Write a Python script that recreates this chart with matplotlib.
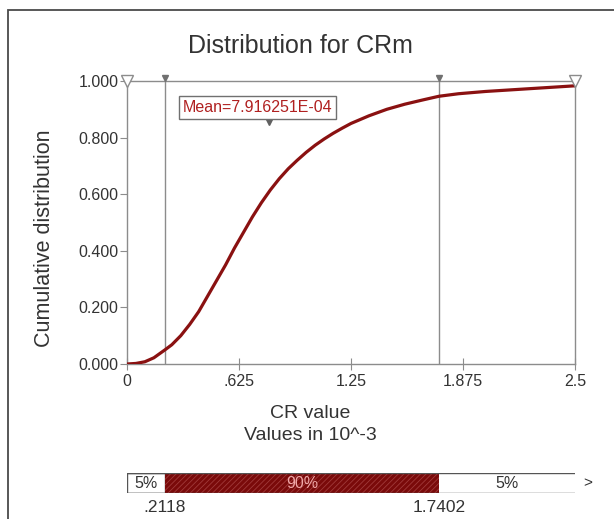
import matplotlib
matplotlib.use("Agg")
import matplotlib.pyplot as plt
from matplotlib.patches import Rectangle
from matplotlib.lines import Line2D

plt.rcParams["font.family"] = ["Liberation Sans", "DejaVu Sans"]
plt.rcParams["hatch.linewidth"] = 0.6

# cumulative curve read along the CRm output (values in 10^-3)
cr_values = [0, 0.05, 0.10, 0.15, 0.2118, 0.25, 0.30, 0.35, 0.40, 0.45, 0.50, 0.55,
             0.60, 0.65, 0.70, 0.75, 0.80, 0.85, 0.90, 0.95, 1.00, 1.05, 1.10, 1.15,
             1.20, 1.25, 1.35, 1.45, 1.55, 1.65, 1.7402, 1.85, 2.00, 2.15, 2.30, 2.40,
             2.50]
cum_prob = [0, 0.002, 0.008, 0.022, 0.05, 0.068, 0.10, 0.14, 0.185, 0.24, 0.295, 0.35,
            0.41, 0.465, 0.52, 0.57, 0.615, 0.655, 0.69, 0.72, 0.748, 0.773, 0.795, 0.815,
            0.833, 0.85, 0.877, 0.90, 0.918, 0.933, 0.946, 0.955, 0.963, 0.969, 0.975,
            0.979, 0.983]

x_ticks = [0, 0.625, 1.25, 1.875, 2.5]
x_tick_labels = ["0", ".625", "1.25", "1.875", "2.5"]
y_ticks = [0, 0.2, 0.4, 0.6, 0.8, 1.0]
y_tick_labels = ["0.000", "0.200", "0.400", "0.600", "0.800", "1.000"]

mean_value = 0.7916251
mean_label = "Mean=7.916251E-04"
lower_pct, upper_pct = 0.2118, 1.7402
band_labels = ["5%", "90%", "5%"]

CURVE = "#8a1111"
GRAY = "#8c8c8c"
TEXT = "#333333"

W, H = 614, 519
fig = plt.figure(figsize=(W / 100, H / 100), dpi=100)
fig.patch.set_facecolor("white")


def fx(px):
    return px / W


def fy(py):
    return 1 - py / H


# outer frame
fig.add_artist(Rectangle((fx(8), -0.1), 1.2, fy(10) + 0.1, transform=fig.transFigure,
                         fill=False, edgecolor="#4a4a4a", linewidth=1.3))

ax = fig.add_axes([fx(127), fy(364), fx(575) - fx(127), fy(81) - fy(364)])
ax.set_xlim(0, 2.5)
ax.set_ylim(0, 1)
for s in ax.spines.values():
    s.set_color(GRAY)
    s.set_linewidth(1.0)

ax.axvline(lower_pct, color=GRAY, linewidth=1.0)
ax.axvline(upper_pct, color=GRAY, linewidth=1.0)
ax.plot(cr_values, cum_prob, color=CURVE, linewidth=2.3, solid_capstyle="round",
        solid_joinstyle="round", zorder=5)

ax.set_xticks(x_ticks)
ax.set_xticklabels(x_tick_labels)
ax.set_yticks(y_ticks)
ax.set_yticklabels(y_tick_labels)
ax.tick_params(axis="x", direction="inout", length=8, color=GRAY, labelsize=11.5,
               labelcolor=TEXT, pad=3)
ax.tick_params(axis="y", direction="out", length=5, color=GRAY, labelsize=11.5,
               labelcolor=TEXT, pad=1)

# markers along the top edge
ax.plot([0, 2.5], [1.0, 1.0], linestyle="none", marker="v", markersize=8,
        markerfacecolor="white", markeredgecolor=GRAY, clip_on=False, zorder=6)
ax.plot([lower_pct, upper_pct], [1.012, 1.012], linestyle="none", marker="v",
        markersize=5, color="#707070", clip_on=False, zorder=6)

# mean marker and label
ax.plot([mean_value], [0.855], linestyle="none", marker="v", markersize=4,
        color="#606060", zorder=6)
ax.text(0.31, 0.908, mean_label, color="#b02020", fontsize=11.5, va="center", ha="left",
        bbox=dict(boxstyle="square,pad=0.25", facecolor="white", edgecolor="#707070",
                  linewidth=1.0), zorder=7)

fig.text(fx(300), fy(46), "Distribution for CRm", ha="center", va="center",
         fontsize=18, color=TEXT)
fig.text(fx(45), fy(238), "Cumulative distribution", ha="center", va="center",
         rotation=90, fontsize=15.5, color=TEXT)
fig.text(fx(310), fy(413), "CR value", ha="center", va="center", fontsize=14, color=TEXT)
fig.text(fx(310), fy(435), "Values in 10^-3", ha="center", va="center", fontsize=14,
         color=TEXT)

# percentile band below the chart
bx = fig.add_axes([fx(127), fy(493), fx(575) - fx(127), fy(473) - fy(493)])
bx.set_xlim(0, 2.5)
bx.set_ylim(0, 1)
bx.axis("off")
bx.add_patch(Rectangle((0, 0), lower_pct, 1, facecolor="white", edgecolor="#555555",
                       linewidth=1.0))
bx.add_patch(Rectangle((lower_pct, 0), upper_pct - lower_pct, 1, facecolor="#7a0a0a",
                       edgecolor="#a03a3a", hatch="//////", linewidth=0))
bx.add_line(Line2D([0, 2.5], [1, 1], color="#555555", linewidth=1.0))
bx.add_line(Line2D([0, 2.5], [0, 0], color="#555555", linewidth=1.0))
bx.text(lower_pct / 2, 0.5, band_labels[0], ha="center", va="center", fontsize=11.5,
        color=TEXT)
bx.text((lower_pct + upper_pct) / 2, 0.5, band_labels[1], ha="center", va="center",
        fontsize=11.5, color="#f0a8a8")
bx.text((upper_pct + 2.5) / 2, 0.5, band_labels[2], ha="center", va="center",
        fontsize=11.5, color=TEXT)
bx.text(2.57, 0.5, ">", ha="center", va="center", fontsize=11, color=TEXT, clip_on=False)
bx.text(lower_pct, -0.75, f"{lower_pct:.4f}".lstrip("0"), ha="center", va="center",
        fontsize=12.5, color=TEXT, clip_on=False)
bx.text(upper_pct, -0.75, f"{upper_pct:.4f}", ha="center", va="center", fontsize=12.5,
        color=TEXT, clip_on=False)

fig.savefig("out.png", dpi=100, facecolor="white")
